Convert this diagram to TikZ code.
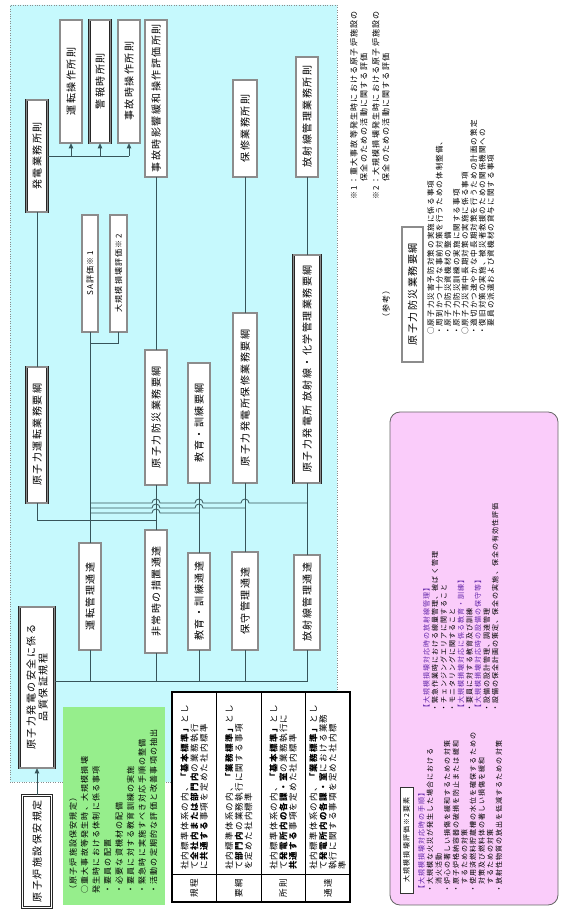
\documentclass[tikz,border=0pt]{standalone}
\usepackage{fontspec}
\setmainfont{Noto Sans CJK JP}
\newfontfamily\jpwide[LetterSpace=15]{Noto Sans CJK JP}
\usetikzlibrary{arrows.meta}
\definecolor{qacyan}{RGB}{198,249,253}
\definecolor{sagreen}{RGB}{150,238,140}
\definecolor{dmpink}{RGB}{250,204,250}
\definecolor{headviolet}{RGB}{100,40,170}
\definecolor{linkgray}{RGB}{55,85,90}
\begin{document}
\begin{tikzpicture}[x=1pt,y=1pt,every node/.style={rotate=90}]
  \tikzstyle{doc}=[draw=black!85,double=black!45,double distance=1.2pt,line width=0.65pt,fill=white,inner sep=0pt,font=\jpwide\fontsize{10}{12}\selectfont]
  \tikzstyle{topdoc}=[draw=black!85,double=white,double distance=1.6pt,line width=0.8pt,fill=white,inner sep=0pt,font=\jpwide\fontsize{10}{12}\selectfont]
  \tikzstyle{link}=[draw=linkgray,line width=0.8pt]
  \tikzstyle{note}=[inner sep=0pt,align=left,font=\jpwide\fontsize{7}{8.6}\selectfont]
  \tikzstyle{pointed}=[-{Triangle[length=5pt,width=4.5pt]}]
  \useasboundingbox (0,0) rectangle (562,912);

  \path[fill=qacyan,draw=black!45,dotted] (10,130) -- (10,907) -- (337,907) -- (337,220) -- (172,220) -- (172,130) -- cycle;

  \node[topdoc,minimum width=112pt,minimum height=29pt] (hoan) at (37,60.5) {原子炉施設保安規定};
  \node[doc,minimum width=161pt,minimum height=35pt,align=center] (qa) at (37,224.5) {原子力発電の安全に係る\\品質保証規程};

  \node[doc,minimum width=112pt,minimum height=21pt] (hatsuden) at (37,756) {発電業務所則};
  \node[doc,minimum width=123pt,minimum height=22pt] (unten) at (71,830.5) {運転操作所則};
  \node[doc,minimum width=123pt,minimum height=21pt] (keiho) at (100,830.5) {警報時所則};
  \node[doc,minimum width=123pt,minimum height=22pt] (jikoji) at (129,830.5) {事故時操作所則};
  \node[doc,minimum width=157pt,minimum height=22pt] (eikyo) at (156,813.5) {事故時影響緩和操作評価所則};
  \node[doc,minimum width=97pt,minimum height=24pt] (hoshu) at (245,783.5) {保修業務所則};
  \node[doc,minimum width=120pt,minimum height=22pt] (hoshasen) at (307,795) {放射線管理業務所則};

  \node[doc,minimum width=136pt,minimum height=21pt] (untenyoko) at (37,477) {原子力運転業務要綱};
  \node[doc,font=\jpwide\fontsize{8}{10}\selectfont,minimum width=117pt,minimum height=16pt] (sa) at (90,638.5) {SA評価※1};
  \node[doc,font=\jpwide\fontsize{8}{10}\selectfont,minimum width=117pt,minimum height=17pt] (daikibo) at (118.5,638.5) {大規模損壊評価※2};
  \node[doc,minimum width=135pt,minimum height=22pt] (bosai) at (156,494.5) {原子力防災業務要綱};
  \node[doc,minimum width=120pt,minimum height=22pt] (kyoiku) at (199,489) {教育・訓練要綱};
  \node[doc,minimum width=170pt,minimum height=24pt] (hoshuyoko) at (245,514) {原子力発電所保修業務要綱};
  \node[doc,minimum width=228pt,minimum height=27pt] (hoshasenyoko) at (307,543) {原子力発電所\ 放射線・化学管理業務要綱};

  \node[doc,minimum width=107pt,minimum height=22pt] (untentsu) at (90,315.5) {運転管理通達};
  \node[doc,minimum width=123pt,minimum height=22pt] (hijo) at (156,320.5) {非常時の措置通達};
  \node[doc,minimum width=97pt,minimum height=22pt] (kyoikutsu) at (199,310.5) {教育・訓練通達};
  \node[doc,minimum width=98pt,minimum height=26pt] (hoshutsu) at (245,311) {保守管理通達};
  \node[doc,minimum width=95pt,minimum height=26pt] (hoshasentsu) at (307,309.5) {放射線管理通達};

  \coordinate (trunk) at (0,231);
  \coordinate (bracket) at (0,569);
  \coordinate (runs) at (0,392);
  \coordinate (hopA) at (0,409);
  \coordinate (hopB) at (0,404);
  \coordinate (hopC) at (0,399);

  \draw[link,pointed] (hoan) -- (qa);
  \draw[link] (qa.south |- trunk) -| (hoshasentsu.west);
  \foreach \n in {untentsu,hijo,kyoikutsu,hoshutsu}
    \draw[link] (\n.west |- trunk) -- (\n.west);
  \draw[link] (untenyoko) -- (hatsuden);
  \draw[link] (hatsuden.south) -- (hatsuden.south -| jikoji);
  \foreach \n in {unten,keiho,jikoji}
    \draw[link,pointed] (hatsuden.south -| \n) -- (\n.west);
  \draw[link] (bosai) -- (eikyo);
  \draw[link] (hoshuyoko) -- (hoshu);
  \draw[link] (hoshasenyoko) -- (hoshasen);
  \draw[link] (bosai) -- (hijo);
  \draw[link] (kyoiku) -- (kyoikutsu);
  \draw[link] (hoshuyoko) -- (hoshutsu);
  \draw[link] (hoshasenyoko) -- (hoshasentsu);
  \draw[link] (sa.west) -- (sa.west |- bracket) -- (daikibo.west |- bracket) -- (daikibo.west);
  \draw[link] (sa.west |- bracket) -- (untentsu.east);
  \draw[link] (untenyoko.west) -- (untenyoko.west |- runs) -| (hijo.east);
  \draw[link] (untentsu.east |- hopA) -- (152,409) arc[start angle=180,end angle=0,radius=4]
    -- (195,409) arc[start angle=180,end angle=0,radius=4]
    -- (241,409) arc[start angle=180,end angle=0,radius=4] -- (hoshasentsu.east |- hopA);
  \draw[link] (untentsu.east |- hopB) -- (152,404) arc[start angle=180,end angle=0,radius=4]
    -- (195,404) arc[start angle=180,end angle=0,radius=4] -- (hoshutsu.east |- hopB);
  \draw[link] (untentsu.east |- hopC) -- (152,399) arc[start angle=180,end angle=0,radius=4]
    -- (kyoikutsu.east |- hopC);

  \fill[sagreen] (63,7) rectangle (165,205);
  \node[note,font=\jpwide\fontsize{8}{11.5}\selectfont,anchor=north west] (sapoints) at (69,18) {（原子炉施設保安規定）\\○重大事故等発生時、大規模損壊\\発生時における体制に係る事項\\・要員の配置\\・必要な資機材の配備\\・要員に対する教育訓練の実施\\・緊急時に実施すべき対応手順の整備\\・活動の定期的な評価と改善事項の抽出};

  \draw[line width=1.3pt] (172,10) rectangle (350,220);
  \draw[line width=0.6pt] (172,38) -- (350,38);
  \foreach \r in {216.5,261,305.5}
    \draw[line width=0.6pt] (\r,10) -- (\r,220);
  \tikzstyle{cell}=[note,font=\jpwide\fontsize{8.5}{9.6}\selectfont]
  \node[cell] (kiteilbl) at (194.25,24) {規程};
  \node[cell] (yokolbl) at (238.75,24) {要綱};
  \node[cell] (shosokulbl) at (283.25,24) {所則};
  \node[cell] (tsutatsulbl) at (327.75,24) {通達};
  \node[cell,anchor=west] (kiteitxt) at (194.25,42) {社内標準体系の内、\textbf{「基本標準」}とし\\て\textbf{全社内または部門内}の業務執行\\に\textbf{共通する}事項を定めた社内標準};
  \node[cell,anchor=west] (yokotxt) at (238.75,42) {社内標準体系の内、\textbf{「業務標準」}とし\\て\textbf{部門内}の業務執行に関する事項\\を定めた社内標準};
  \node[cell,anchor=west] (shosokutxt) at (283.25,42) {社内標準体系の内、\textbf{「基本標準」}とし\\て\textbf{発電所内の各課・室}の業務執行に\\\textbf{共通する}事項を定めた社内標準};
  \node[cell,anchor=west] (tsutatsutxt) at (327.75,42) {社内標準体系の内、\textbf{「業務標準」}とし\\て\textbf{発電所内の各課・室}における業務\\執行に関する事項を定めた社内標\\準};

  \draw[rounded corners=10pt,fill=dmpink,draw=black!60,line width=0.8pt] (390,7) rectangle (558,500);
  \node[draw=black!80,line width=0.8pt,fill=white,inner sep=0pt,minimum width=106pt,minimum height=13pt,font=\jpwide\fontsize{7}{8}\selectfont] (dmlabel) at (406.5,72) {大規模損壊評価※2要素};
  \node[note,anchor=north west] (dmsteps) at (418,19) {{\color{headviolet}【大規模損壊対応時の手順】}\\・大規模な火災が発生した場合における\\　消火活動\\・炉心の著しい損傷を緩和するための対策\\・原子炉格納容器の破損を防止または緩和\\　するための対策\\・使用済燃料貯蔵槽の水位を確保するための\\　対策及び燃料体の著しい損傷を緩和\\　するための対策\\・放射性物質の放出を低減するための対策};
  \node[note,anchor=north west] (dmcare) at (423,200) {{\color{headviolet}【大規模損壊対応時の放射線管理】}\\・緊急作業時における線量管理、被ばく管理\\・チェンジングエリアに関すること\\・モニタリングに関すること\\{\color{headviolet}【大規模損壊対応に係る教育・訓練】}\\・要員に対する教育及び訓練\\{\color{headviolet}【大規模損壊対応時の設備の保守等】}\\・設備の設計管理、調達管理\\・設備の保全計画の策定、保全の実施、保全の有効性評価};

  \node[note,font=\jpwide\fontsize{8}{10}\selectfont,anchor=north west] (remarks) at (350,712) {※1：重大事故等発生時における原子炉施設の\\　　保全のための活動に関する評価\\[2pt]※2：大規模損壊発生時における原子炉施設の\\　　保全のための活動に関する評価};

  \node[note,font=\jpwide\fontsize{8}{10}\selectfont,anchor=west] (sanko) at (386,590) {（参考）};
  \node[doc,minimum width=135pt,minimum height=21pt] (sankobox) at (412.5,617.5) {原子力防災業務要綱};
  \node[note,font=\jpwide\fontsize{7.5}{8.6}\selectfont,anchor=north west] (sankotxt) at (427,577) {○原子力災害予防対策の実施に係る事項\\・周到かつ十分な事前対策を行うための体制整備、\\・原子力防災資機材の整備\\・原子力防災訓練の実施に関する事項\\○原子力災害中長期対策の実施に係る事項\\・適切かつ速やかな中長期対策を行うための計画の策定\\・復旧対策の実施、被災者救援のための関係機関への\\　要員の派遣および資機材の貸与に関する事項};
\end{tikzpicture}
\end{document}
